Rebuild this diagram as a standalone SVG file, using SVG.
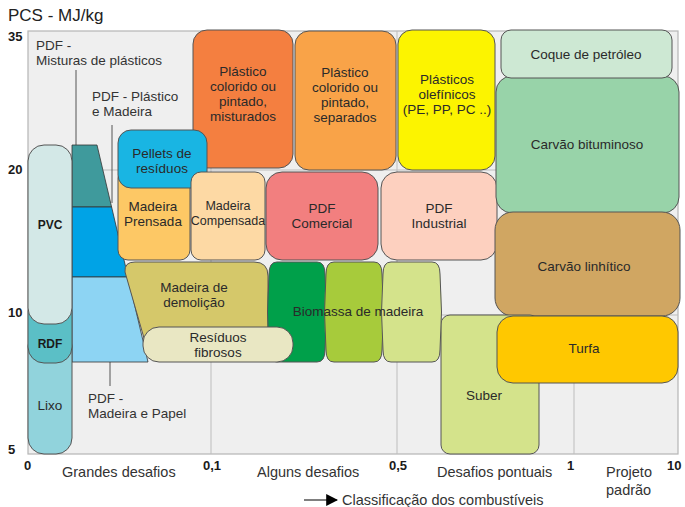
<svg xmlns="http://www.w3.org/2000/svg" width="685" height="507" viewBox="0 0 685 507">
<defs>
<marker id="ah" viewBox="0 0 10 10" refX="9" refY="5" markerWidth="12" markerHeight="12" markerUnits="userSpaceOnUse" orient="auto"><path d="M0,0 L10,5 L0,10 Z" fill="#000"/></marker>
</defs>
<style>
text{font-family:"Liberation Sans",Arial,sans-serif;fill:#2a2a2a;}
.n{font-size:13.5px;text-anchor:middle;}
.s{font-size:12.5px;text-anchor:middle;}
.b{font-size:12px;font-weight:bold;text-anchor:middle;fill:#1a1a1a;}
.ax{font-size:13px;font-weight:bold;fill:#1a1a1a;}
.lab{font-size:13.5px;fill:#333;}
.xl{font-size:14.5px;fill:#333;}
.box{stroke:#555;stroke-width:1;}
.grid{stroke:#bdbdbd;stroke-width:1;fill:none;}
.lead{stroke:#555;stroke-width:1;fill:none;}
</style>
<rect width="685" height="507" fill="#fff"/>
<text x="8" y="21" style="font-size:17px;fill:#222">PCS - MJ/kg</text>
<g id="plot">
<rect x="28" y="31" width="650" height="423" fill="#efefef" stroke="#b5b5b5" stroke-width="1.2"/>
<path class="grid" d="M28,170 H678 M28,315 H678 M211,31 V454 M397,31 V454 M574,31 V454"/>
</g>
<g id="axes">
<text class="ax" x="8" y="41">35</text>
<text class="ax" x="8" y="174">20</text>
<text class="ax" x="8" y="317">10</text>
<text class="ax" x="8" y="454">5</text>
<text class="ax" x="24" y="470">0</text>
<text class="ax" x="203" y="470">0,1</text>
<text class="ax" x="389" y="470">0,5</text>
<text class="ax" x="567" y="470">1</text>
<text class="ax" x="667" y="470">10</text>
<text class="xl" x="62" y="477">Grandes desafios</text>
<text class="xl" x="257" y="477">Alguns desafios</text>
<text class="xl" x="437" y="477">Desafios pontuais</text>
<text class="xl" x="606" y="477">Projeto</text>
<text class="xl" x="606" y="495">padrão</text>
<text class="xl" x="342" y="505">Classificação dos combustíveis</text>
</g>
<g id="connectors">
<path class="lead" d="M76,70 V145"/>
<path class="lead" d="M112,125 V203"/>
<path class="lead" d="M110,362 V386"/>
<path d="M304,500 H337" stroke="#000" stroke-width="1.2" marker-end="url(#ah)"/>
</g>
<g id="pdf-labels">
<text class="lab" x="36" y="50">PDF -</text>
<text class="lab" x="36" y="65">Misturas de plásticos</text>
<text class="lab" x="92" y="101">PDF - Plástico</text>
<text class="lab" x="92" y="116">e Madeira</text>
<text class="lab" x="88" y="403">PDF -</text>
<text class="lab" x="88" y="418">Madeira e Papel</text>
</g>
<g id="pdf-trapezio">
<polygon points="72,145 97,145 111.6,207 72,207" fill="#3f9a9c" stroke="#333" stroke-width="0.8"/>
<polygon points="72,207 111.6,207 128,277 72,277" fill="#00a3e6" stroke="#333" stroke-width="0.8"/>
<polygon points="72,277 128,277 148,362 72,362" fill="#8dd4f3" stroke="#333" stroke-width="0.8"/>
</g>
<g id="lixo"><rect class="box" x="28" y="330" width="44" height="124" rx="16" fill="#91d3dc"/><text class="n" x="50" y="410">Lixo</text></g>
<g id="rdf"><rect class="box" x="28" y="295" width="44" height="68" rx="16" fill="#5bbfc6"/><text class="b" x="50" y="348">RDF</text></g>
<g id="pvc"><rect class="box" x="28" y="145" width="44" height="179" rx="16" fill="#d3e8e7"/><text class="b" x="50" y="229">PVC</text></g>
<g id="plastico-misturados"><rect class="box" x="193" y="30" width="100" height="138" rx="14" fill="#f47f40"/>
<text class="n" x="243" y="76">Plástico</text><text class="n" x="243" y="91">colorido ou</text><text class="n" x="243" y="106">pintado,</text><text class="n" x="243" y="121">misturados</text></g>
<g id="plastico-separados"><rect class="box" x="295" y="31" width="101" height="139" rx="14" fill="#f9a348"/>
<text class="n" x="345" y="77">Plástico</text><text class="n" x="345" y="92">colorido ou</text><text class="n" x="345" y="107">pintado,</text><text class="n" x="345" y="122">separados</text></g>
<g id="olefinicos"><rect class="box" x="398" y="30" width="97" height="140" rx="14" fill="#fcf400"/>
<text class="n" x="447" y="84">Plásticos</text><text class="n" x="447" y="99">olefínicos</text><text class="n" x="447" y="114">(PE, PP, PC ..)</text></g>
<g id="madeira-prensada"><rect class="box" x="118" y="168" width="72" height="92" rx="10" fill="#fdc865"/>
<text class="n" x="153" y="211">Madeira</text><text class="n" x="153" y="226">Prensada</text></g>
<g id="pellets"><rect class="box" x="118" y="130" width="89" height="58" rx="13" fill="#19b5e3"/>
<text class="n" x="162" y="158">Pellets de</text><text class="n" x="162" y="173">resíduos</text></g>
<g id="madeira-compensada"><rect class="box" x="191" y="172" width="74" height="88" rx="10" fill="#fdd9a4"/>
<text class="s" x="228" y="210">Madeira</text><text class="s" x="228" y="225">Compensada</text></g>
<g id="pdf-comercial"><rect class="box" x="266" y="172" width="112" height="88" rx="16" fill="#f27f7f"/>
<text class="n" x="322" y="213">PDF</text><text class="n" x="322" y="228">Comercial</text></g>
<g id="pdf-industrial"><rect class="box" x="381" y="172" width="116" height="88" rx="16" fill="#fdd0bf"/>
<text class="n" x="439" y="213">PDF</text><text class="n" x="439" y="228">Industrial</text></g>
<g id="carvao-bituminoso"><rect class="box" x="496" y="76" width="183" height="137" rx="16" fill="#98d3a9"/>
<text class="n" x="587" y="149">Carvão bituminoso</text></g>
<g id="coque"><rect class="box" x="501" y="30" width="171" height="48" rx="10" fill="#cde8d3"/>
<text class="n" x="586" y="59">Coque de petróleo</text></g>
<g id="carvao-linhitico"><rect class="box" x="495" y="212" width="185" height="104" rx="18" fill="#d0a662"/>
<text class="n" x="584" y="271">Carvão linhítico</text></g>
<g id="suber"><rect class="box" x="441" y="315" width="98" height="139" rx="9" fill="#d4e38b"/>
<text class="n" x="484" y="400">Suber</text></g>
<g id="turfa"><rect class="box" x="497" y="316" width="181" height="67" rx="16" fill="#ffc800"/>
<text class="n" x="584" y="353">Turfa</text></g>
<g id="madeira-demolicao"><path class="box" d="M135,262 H254 Q268,262 268,276 V345 H146 L125,272 Q124,262 135,262 Z" fill="#d5c86a"/>
<text class="n" x="194" y="292">Madeira de</text><text class="n" x="194" y="307">demolição</text></g>
<g id="biomassa">
<path class="box" d="M277,262 H317 Q325,262 325,274 Q328,312 325,350 Q325,362 317,362 H277 Q269,362 269,350 Q266,312 269,274 Q269,262 277,262 Z" fill="#00a04a"/>
<path class="box" d="M334,262 H374 Q382,262 382,274 Q385,312 382,350 Q382,362 374,362 H334 Q326,362 326,350 Q323,312 326,274 Q326,262 334,262 Z" fill="#a7cb3b"/>
<path class="box" d="M391,262 H432 Q440,262 440,274 Q443,312 440,350 Q440,362 432,362 H391 Q383,362 383,350 Q380,312 383,274 Q383,262 391,262 Z" fill="#d4e38b"/>
<text class="n" x="358" y="316">Biomassa de madeira</text>
</g>
<g id="residuos-fibrosos"><rect class="box" x="143" y="327" width="150" height="35" rx="16" fill="#e9e7c3"/>
<text class="n" x="218" y="342">Resíduos</text><text class="n" x="218" y="357">fibrosos</text></g>
</svg>
